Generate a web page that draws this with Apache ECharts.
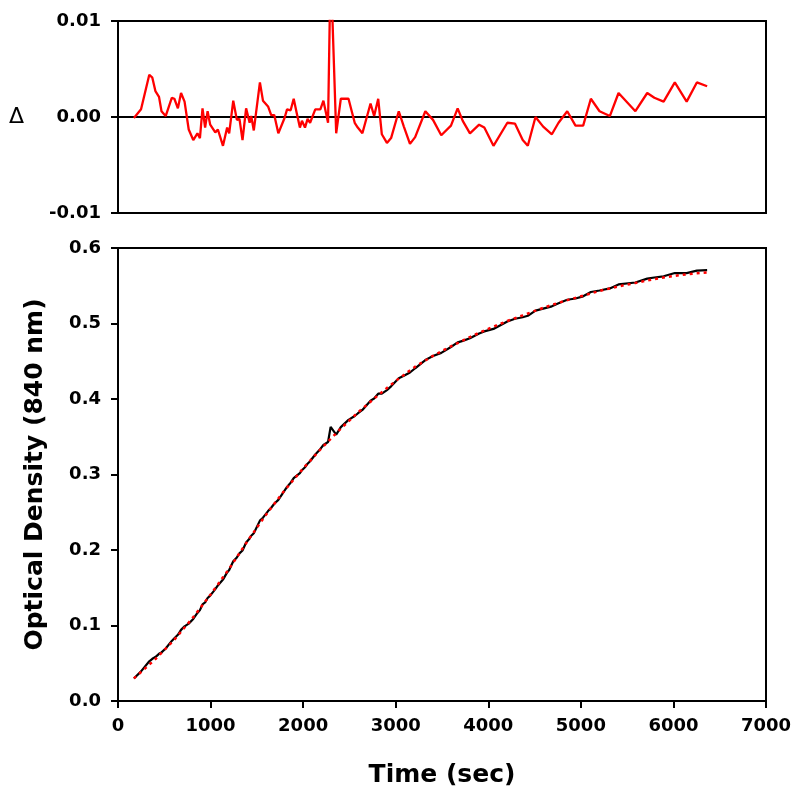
<!DOCTYPE html>
<html>
<head>
<meta charset="utf-8">
<script src="https://cdn.jsdelivr.net/npm/echarts@6/dist/echarts.min.js"></script>
<style>
html,body{margin:0;padding:0;background:#fff;}
#chart{width:800px;height:804px;}
</style>
</head>
<body>
<div id="chart"></div>
<script>
// Time points (sec)
var times = [172,249,338,371,404,443,470,515,581,609,647,681,719,764,813,858,885,913,941,968,996,1051,1079,1134,1179,1201,1245,1284,1312,1345,1384,1422,1439,1467,1533,1566,1621,1655,1688,1732,1799,1826,1865,1898,1931,1965,1987,2020,2048,2075,2131,2186,2219,2269,2297,2357,2407,2490,2557,2590,2640,2728,2767,2811,2850,2905,2950,3033,3088,3154,3210,3320,3403,3492,3597,3669,3724,3802,3901,3957,4056,4206,4289,4372,4427,4510,4593,4687,4759,4853,4942,5025,5108,5202,5313,5407,5589,5717,5794,5894,6015,6143,6253,6364];
// Residuals (data - fit)
var residuals = [-0.0001,0.0008,0.0044,0.0041,0.0027,0.0021,0.0006,0.0001,0.0020,0.0019,0.0009,0.0025,0.0016,-0.0013,-0.0024,-0.0017,-0.0022,0.0009,-0.0011,0.0006,-0.0008,-0.0016,-0.0013,-0.0030,-0.0011,-0.0017,0.0017,-0.0003,-0.0002,-0.0024,0.0009,-0.0006,0.0001,-0.0014,0.0036,0.0017,0.0011,0.0002,0.0002,-0.0017,-0.0001,0.0008,0.0007,0.0019,0.0004,-0.0011,-0.0004,-0.0011,-0.0002,-0.0006,0.0008,0.0008,0.0017,-0.0006,0.0160,-0.0017,0.0019,0.0019,-0.0006,-0.0011,-0.0017,0.0014,0.0001,0.0019,-0.0018,-0.0027,-0.0022,0.0006,-0.0010,-0.0028,-0.0021,0.0006,-0.0003,-0.0019,-0.0009,0.0009,-0.0004,-0.0017,-0.0008,-0.0011,-0.0030,-0.0006,-0.0007,-0.0024,-0.0030,0.0000,-0.0010,-0.0018,-0.0006,0.0006,-0.0009,-0.0009,0.0019,0.0006,0.0001,0.0025,0.0006,0.0025,0.0020,0.0016,0.0036,0.0016,0.0036,0.0032];
// Measured optical density (840 nm)
var measuredOD = [0.0298,0.0392,0.0526,0.0559,0.0582,0.0625,0.0644,0.0695,0.0796,0.0832,0.0877,0.0942,0.0989,0.1025,0.1087,0.1166,0.1204,0.1280,0.1305,0.1365,0.1396,0.1481,0.1531,0.1608,0.1703,0.1735,0.1850,0.1902,0.1955,0.1994,0.2099,0.2153,0.2189,0.2223,0.2389,0.2428,0.2515,0.2560,0.2613,0.2664,0.2787,0.2836,0.2891,0.2951,0.2984,0.3018,0.3057,0.3096,0.3143,0.3175,0.3265,0.3339,0.3391,0.3430,0.3631,0.3529,0.3627,0.3723,0.3775,0.3808,0.3855,0.3978,0.4006,0.4070,0.4072,0.4118,0.4168,0.4276,0.4309,0.4351,0.4407,0.4516,0.4569,0.4611,0.4689,0.4750,0.4770,0.4804,0.4868,0.4895,0.4928,0.5027,0.5063,0.5083,0.5102,0.5170,0.5197,0.5227,0.5268,0.5315,0.5331,0.5360,0.5417,0.5437,0.5465,0.5517,0.5543,0.5594,0.5609,0.5625,0.5668,0.5667,0.5701,0.5708];
// Fitted optical density
var fitOD = [0.0299,0.0384,0.0482,0.0518,0.0555,0.0604,0.0638,0.0694,0.0776,0.0813,0.0868,0.0917,0.0973,0.1038,0.1111,0.1183,0.1226,0.1271,0.1316,0.1359,0.1404,0.1497,0.1544,0.1638,0.1714,0.1752,0.1833,0.1905,0.1957,0.2018,0.2090,0.2159,0.2188,0.2237,0.2353,0.2411,0.2504,0.2558,0.2611,0.2681,0.2788,0.2828,0.2884,0.2932,0.2980,0.3029,0.3061,0.3107,0.3145,0.3181,0.3257,0.3331,0.3374,0.3436,0.3471,0.3546,0.3608,0.3704,0.3781,0.3819,0.3872,0.3964,0.4005,0.4051,0.4090,0.4145,0.4190,0.4270,0.4319,0.4379,0.4428,0.4510,0.4572,0.4630,0.4698,0.4741,0.4774,0.4821,0.4876,0.4906,0.4958,0.5033,0.5070,0.5107,0.5132,0.5170,0.5207,0.5245,0.5274,0.5309,0.5340,0.5369,0.5398,0.5431,0.5464,0.5492,0.5537,0.5569,0.5589,0.5609,0.5632,0.5651,0.5665,0.5676];

var xTicks = [0,1000,2000,3000,4000,5000,6000,7000];
var odTicks = ['0.0','0.1','0.2','0.3','0.4','0.5','0.6'];
var residTicks = ['-0.01','0.00','0.01'];

function pairs(xs, ys){ return xs.map(function(x,i){ return [x, ys[i]]; }); }

var FONT = '"DejaVu Sans", sans-serif';
var labelStyle = {color:'#000', fontFamily: FONT, fontWeight:'bold', fontSize:18};
var titleStyle = {color:'#000', fontFamily: FONT, fontWeight:'bold', fontSize:25};

var chart = echarts.init(document.getElementById('chart'), null, {renderer:'canvas'});
chart.setOption({
  animation:false,
  backgroundColor:'#fff',
  grid:[
    {left:118, top:21, width:648, height:192, show:true, borderColor:'#000', borderWidth:2, backgroundColor:'transparent'},
    {left:118, top:248, width:648, height:453, show:true, borderColor:'#000', borderWidth:2, backgroundColor:'transparent'}
  ],
  xAxis:[
    {gridIndex:0, type:'value', min:0, max:7000, interval:1000,
     axisLine:{show:true, onZero:true, lineStyle:{color:'#000', width:2}},
     axisTick:{show:false}, axisLabel:{show:false}, splitLine:{show:false}},
    {gridIndex:1, type:'value', min:0, max:7000, interval:1000,
     name:'Time (sec)', nameLocation:'middle', nameGap:62,
     nameTextStyle:titleStyle,
     axisLine:{show:true, onZero:false, lineStyle:{color:'#000', width:2}},
     axisTick:{show:true, inside:false, length:7, lineStyle:{color:'#000', width:2}},
     axisLabel:Object.assign({margin:16, formatter:function(v){ return xTicks.indexOf(v)>=0 ? String(v) : ''; }}, labelStyle),
     splitLine:{show:false}}
  ],
  yAxis:[
    {gridIndex:0, type:'value', min:-0.01, max:0.01, interval:0.01,
     name:'Δ', nameLocation:'middle', nameRotate:0, nameGap:94,
     nameTextStyle:{color:'#000', fontFamily:'"DejaVu Sans", sans-serif', fontSize:22},
     axisLine:{show:true, lineStyle:{color:'#000', width:2}},
     axisTick:{show:true, inside:false, length:7, lineStyle:{color:'#000', width:2}},
     axisLabel:Object.assign({margin:17, formatter:function(v){ var i=Math.round(v/0.01)+1; return residTicks[i]; }}, labelStyle),
     splitLine:{show:false}},
    {gridIndex:1, type:'value', min:0, max:0.6, interval:0.1,
     name:'Optical Density (840 nm)', nameLocation:'middle', nameGap:70,
     nameTextStyle:titleStyle,
     axisLine:{show:true, lineStyle:{color:'#000', width:2}},
     axisTick:{show:true, inside:false, length:7, lineStyle:{color:'#000', width:2}},
     axisLabel:Object.assign({margin:17, formatter:function(v){ return odTicks[Math.round(v*10)]; }}, labelStyle),
     splitLine:{show:false}}
  ],
  series:[
    {type:'line', name:'Residual', xAxisIndex:0, yAxisIndex:0, data:pairs(times, residuals),
     showSymbol:false, clip:true, lineStyle:{color:'#ff0000', width:2.3}},
    {type:'line', name:'Measured', xAxisIndex:1, yAxisIndex:1, data:pairs(times, measuredOD),
     showSymbol:false, lineStyle:{color:'#000', width:2.2}, z:2},
    {type:'line', name:'Fit', xAxisIndex:1, yAxisIndex:1, data:pairs(times, fitOD),
     showSymbol:false, lineStyle:{color:'#ff0000', width:2.5, type:[3,4]}, z:3}
  ]
});
</script>
</body>
</html>
